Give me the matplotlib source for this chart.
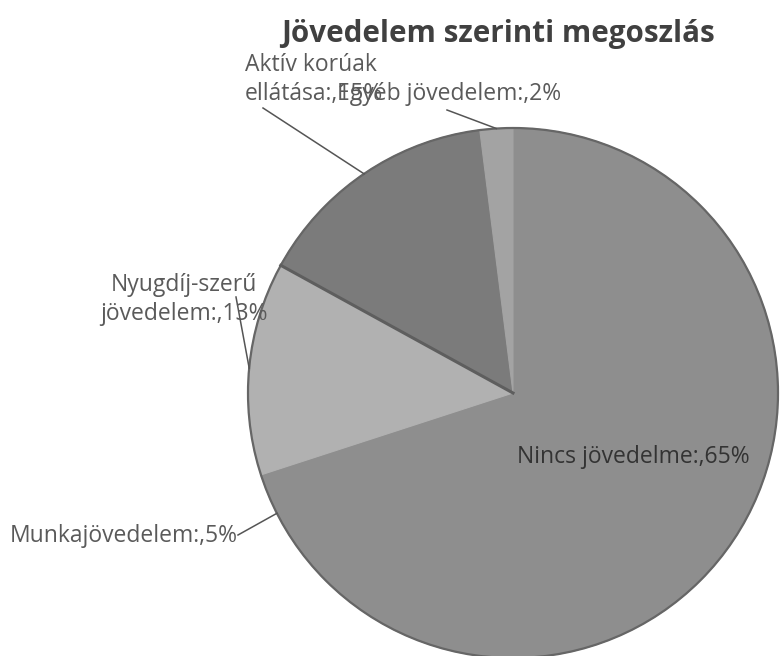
import numpy as np
import matplotlib.pyplot as plt
from matplotlib.patches import Circle

plt.rcParams['font.family'] = ['Open Sans', 'DejaVu Sans']

labels = ['Nincs jövedelme', 'Munkajövedelem', 'Nyugdíj-szerű\njövedelem',
          'Aktív korúak\nellátása', 'Egyéb jövedelem']
shares = [65, 5, 13, 15, 2]
colors = ['#8e8e8e', '#8e8e8e', '#b1b1b1', '#7b7b7b', '#a3a3a3']

W, H = 780, 656
fig = plt.figure(figsize=(W / 100, H / 100), dpi=100)
ax = fig.add_axes([0, 0, 1, 1])

cx, cy, r = 513, H - 393, 265

wedges, _ = ax.pie(shares, colors=colors, startangle=90, counterclock=False,
                   center=(cx, cy), radius=r, frame=True,
                   wedgeprops=dict(linewidth=0.8))
for wd, c in zip(wedges, colors):
    wd.set_edgecolor(c)
ax.set_xlim(0, W)
ax.set_ylim(0, H)
ax.axis('off')
ax.set_aspect('equal')
ax.add_patch(Circle((cx, cy), r, fill=False, edgecolor='#666666', linewidth=1.6))

# dark edge between Nyugdij and Aktiv slices
w = wedges[3]
a = np.deg2rad(w.theta2)
ax.plot([cx, cx + r * np.cos(a)], [cy, cy + r * np.sin(a)], color='#5e5e5e', lw=2.2)

ax.text(498, H - 42, 'Jövedelem szerinti megoszlás', ha='center', va='baseline',
        fontsize=21.3, fontweight='bold', color='#404040')

# label positions (text anchor, px from top-left)
pos = {
    0: (517, 463, 'left'),
    1: (10, 542, 'left'),
    2: (184, 320, 'center'),
    3: (245, 100, 'left'),
    4: (337, 100, 'left'),
}
starts = {1: (238, 535), 2: (236, 297), 3: (263, 108), 4: (447, 110)}
for i, (wd, lab, s) in enumerate(zip(wedges, labels, shares)):
    x, y, ha = pos[i]
    txt = f'{lab}:,{s}%'
    col = '#333333' if i == 0 else '#5a5a5a'
    ax.text(x, H - y, txt, ha=ha, va='baseline', fontsize=16.5, color=col,
            linespacing=1.28, multialignment=ha)
    if i == 0:
        continue
    mid = np.deg2rad((wd.theta1 + wd.theta2) / 2)
    ex, ey = cx + r * np.cos(mid), cy + r * np.sin(mid)
    sx, sy = starts[i]
    ax.plot([sx, ex], [H - sy, ey], color='#555555', lw=1.1)

plt.savefig('out.png', dpi=100)
